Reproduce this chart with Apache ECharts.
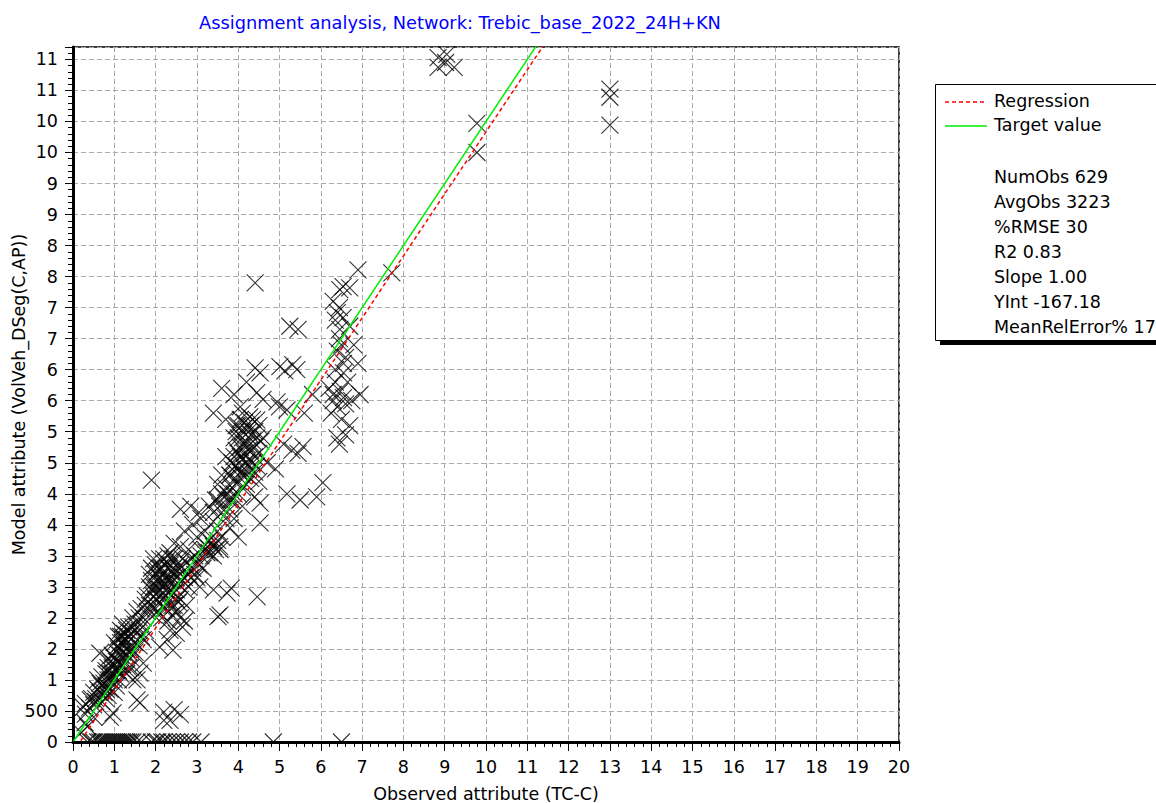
<!DOCTYPE html>
<html>
<head>
<meta charset="utf-8">
<script src="https://cdn.jsdelivr.net/npm/echarts@6/dist/echarts.min.js"></script>
<style>
html,body{margin:0;padding:0;background:#fff;}
#chart{width:1156px;height:803px;}
</style>
</head>
<body>
<div id="chart"></div>
<script>
// ---------------- data ----------------
const titleText = 'Assignment analysis, Network: Trebic_base_2022_24H+KN';
const xAxisTitle = 'Observed attribute (TC-C)';
const yAxisTitle = 'Model attribute (VolVeh_DSeg(C,AP))';
const xTickLabels = ['0','1','2','3','4','5','6','7','8','9','10','11','12','13','14','15','16','17','18','19','20'];
const yTickLabels = ['0','500','1','2','2','3','3','4','4','5','5','6','6','7','7','8','8','9','9','10','10','11','11'];
const legendNames = ['Regression','Target value'];
const statLabels = ['NumObs','AvgObs','%RMSE','R2','Slope','YInt','MeanRelError%'];
const statValues = ['629','3223','30','0.83','1.00','-167.18','17'];
const regressionSlope = 1.00;
const regressionIntercept = -167.18;
// [observed, modelled]
const scatterPoints = [
  // model = 0
  [350,0],[450,0],[500,0],[600,0],[650,0],[700,0],[750,0],[800,0],[850,0],[900,0],[950,0],[1000,0],[1050,0],[1100,0],[1150,0],[1200,0],[1250,0],[1300,0],[1350,0],[1400,0],[1450,0],[1550,0],[1650,0],[1900,0],[2000,0],[2050,0],[2150,0],[2200,0],[2300,0],[2400,0],[2500,0],[2600,0],[2700,0],[2800,0],[2900,0],[3100,0],[4850,0],[6500,0],
  // near origin
  [250,560],[300,620],[420,680],[290,310],[200,150],[350,250],[500,400],[650,1430],[600,1000],[700,900],[800,1100],[750,950],[850,1200],[900,1000],[650,800],[550,700],[700,650],[800,700],[900,400],[970,470],[1000,800],[1050,1300],[1100,1500],[1150,1600],[1200,1700],[1250,1550],[1150,1400],[1200,1250],[1300,1100],[1250,1350],[1350,1200],[1100,1150],[1000,1000],[950,1100],[800,850],[850,750],[1400,1200],[1450,1000],[1550,1000],[1620,1110],[1700,1270],[1550,680],[1620,630],[1450,1850],[1550,1760],[1700,1650],[1650,1900],[1500,1600],[1400,1500],[1300,1800],[1350,1700],[1600,2000],[1750,1800],[1800,2100],
  [300,450],[400,550],[450,700],[500,800],[550,650],[600,850],[650,950],[700,1050],[750,800],[500,600],
  [800,900],[850,1000],[900,1100],[950,1200],[1000,1250],[1050,1150],[1100,1300],[1150,1250],[1200,1450],[1250,1650],[1050,1450],[1100,1700],[1000,1600],[950,1400],[900,1300],[850,1350],[800,1150],[1150,1800],[1200,1900],[1250,1750],[1300,1500],[1350,1450],[1050,900],[1100,1000],[1150,1100],[900,850],[1000,1350],[1200,1600],[1150,1700],[1080,1550],
  [1300,1650],[1350,1850],[1400,1750],[1450,2000],[1500,1900],[1550,2100],[1600,1800],[1650,2150],[1700,2000],[1750,2200],[1400,1350],[1500,1450],[1600,1550],[1650,1700],[1300,1400],
  // 1.8k - 3.7k
  [1900,2200],[1950,2500],[2000,2700],[2000,2300],[2050,2600],[2100,2800],[2100,2450],[2150,2300],[2200,2700],[2200,2550],[2250,2900],[2300,2800],[2300,2400],[2350,2600],[2400,2750],[2400,2200],[2450,2950],[2500,2650],[2500,2450],[2550,2800],[2600,2300],[2650,2600],[2700,2450],[2750,2200],[2800,2700],[2850,2950],[1950,2050],[2050,2100],[2150,2000],[2250,2150],[2300,1950],[2400,2050],[2500,2100],[2600,2000],[2700,1950],[2100,1530],[2420,1480],[2280,1650],[2350,1800],[2500,1750],[2650,1850],[2200,350],[2350,350],[2450,520],[2600,440],[2200,480],[2600,3150],[2350,3050],[2450,3200],[2700,3400],[2900,3500],[2800,3100],[3000,3300],[3100,3100],[3240,3050],[3400,3150],[3560,3100],[3300,3250],[3070,2500],[3400,2450],[3730,2400],[4460,2340],[3560,2050],[3510,2020],[3830,2480],[3000,2900],[3150,2800],[2950,2700],
  [1800,2350],[1850,2500],[1850,2700],[1900,2800],[1900,2600],[1950,2950],[1950,2350],[2000,2500],[2000,2850],[2050,2750],[2050,2400],[2100,2650],[2100,2950],[2150,2550],[2150,2800],[2200,2400],[2200,2950],[2250,2650],[2250,2450],[2300,2600],[2300,3000],[2350,2450],[2350,2850],[2400,2600],[2400,2950],[2450,2700],[2450,2400],[2500,2850],[2500,2300],[2550,2550],[2550,2250],[1900,2450],[2000,2150],[2100,2250],[2200,2150],[2300,2250],[2450,2200],[1850,2200],[1750,2300],[2600,2700],
  [2600,2850],[2650,2950],[2700,2650],[2750,2900],[2800,2500],[2850,2650],[2900,2800],[2950,3000],[3000,2650],[3050,2850],
  [3100,3000],[3200,3100],[3250,3150],[3300,3050],[3350,3200],[3450,3100],[3500,3250],[3550,3150],[3600,3300],[3400,3000],
  // 2.9k - 4.7k diagonal
  [3100,3600],[3200,3400],[3300,3800],[3400,3550],[3500,3900],[3600,3700],[3700,4100],[3800,3900],[3800,4300],[3850,4500],[3900,4200],[3950,4700],[4000,4400],[4000,4900],[4050,4600],[4100,5000],[4100,4300],[4150,4800],[4200,4500],[4200,5100],[4250,4700],[4300,4950],[4300,4400],[4350,5200],[4400,4600],[4400,3950],[4530,3850],[4530,3530],[4450,5190],[4280,5240],[4450,5630],[4600,5520],[4410,6030],[4530,5950],[3900,5600],[3950,5100],[4050,5400],[3700,4600],[3600,4300],[3500,4150],[4600,4900],[4500,4200],[4700,4500],[3400,5300],[3600,5700],[3700,5200],[4200,5800],[1900,4220],[2600,3750],[2850,3800],[3050,3700],[3900,3600],[4100,3800],[3800,3450],[4000,3300],[4410,7400],
  [3400,3700],[3500,3400],[3550,3800],[3650,3950],[3700,3600],[3750,4000],[3800,3750],[3850,3900],[3600,4000],[3450,3900],
  [3800,4300],[3850,4400],[3900,4600],[3950,4450],[4000,4650],[4000,4200],[4050,4750],[4050,4350],[4100,4550],[4100,4900],[4150,4650],[4150,4400],[4200,4800],[4200,4300],[4250,5000],[4250,4550],[4300,4700],[4300,5100],[4350,4850],[4350,4500],[4400,5000],[4400,4750],[4450,4900],[4450,4450],[4500,5100],[4500,4650],[4550,4850],[3900,4900],[3950,5000],[4000,5100],[4050,5200],[4100,5300],[4150,5150],[3850,4100],[3900,4000],[4000,4000],[4100,4100],[4200,4150],[4300,4250],[4400,4350],
  // 4.9k - 6k
  [5010,6050],[5130,5980],[5320,6080],[5420,6000],[5250,6700],[5450,6650],[5000,5400],[4940,5480],[5180,5350],[5300,4700],[5450,4650],[5570,4760],[5180,4000],[5500,3900],[5900,3950],[6050,4180],[5800,5600],[5600,5300],[4900,4400],[5100,4800],
  // 6.2k - 7.7k
  [6540,7340],[6700,7320],[6460,7290],[6900,7610],[7720,7560],[6400,6920],[6540,6840],[6460,6650],[6200,5700],[6300,5600],[6470,5650],[6300,5500],[6550,5550],[6400,5400],[6600,5450],[6750,5500],[6950,5600],[6390,4900],[6500,5200],[6700,5100],[6400,6300],[6600,6200],[6800,6400],[6350,6000],[6550,5950],[6700,6700],[6900,6100],[6450,6500],
  [6300,7100],[6350,6800],[6450,7000],[6500,6400],[6550,6100],[6650,5800],[6350,5800],[6250,5300],[6600,4950],[6450,4800],
  // top
  [8840,11030],[9050,11080],[8840,10870],[9230,10870],[9020,10950],[9780,9970],[9780,9500],[13000,10520],[13000,10390],[13000,9940]
];

// ---------------- chart ----------------
const FONT = 'DejaVu Sans';
const FS = 17.5;
const X_MAX = 20000, Y_MAX = 11200;
const chart = echarts.init(document.getElementById('chart'), null, {renderer: 'svg'});

const regLine = [[0, regressionIntercept], [X_MAX, regressionSlope * X_MAX + regressionIntercept]];
const targetLine = [[0, 0], [X_MAX, X_MAX]];

const statTexts = statLabels.map((l, i) => ({
  type: 'text', left: 994, top: 178 + 25 * i - 10, z: 60,
  style: {text: l + ' ' + statValues[i], fill: '#000', font: FS + 'px "' + FONT + '"'}
}));

chart.setOption({
  animation: false,
  backgroundColor: '#fff',
  title: {
    text: titleText, left: 455, top: 8, textAlign: 'center',
    textStyle: {color: '#0000ff', fontSize: 17.8, fontWeight: 'normal', fontFamily: FONT}
  },
  grid: {left: 73, top: 47, width: 826, height: 695, containLabel: false, outerBoundsMode: 'none',
         show: true, borderColor: '#000', borderWidth: 1.5, backgroundColor: 'transparent'},
  xAxis: [
    {type: 'value', min: 0, max: X_MAX, interval: 1000, z: 0,
     axisLine: {show: false}, axisTick: {show: false}, axisLabel: {show: false},
     splitLine: {show: true, lineStyle: {color: '#aaaaaa', type: [5, 3], width: 1}}},
    {type: 'value', min: 0, max: X_MAX, interval: 1000, position: 'bottom', z: 80,
     name: xAxisTitle, nameLocation: 'middle', nameGap: 43, nameMoveOverlap: false,
     nameTextStyle: {color: '#000', fontSize: FS, fontFamily: FONT},
     axisLine: {show: true, onZero: false, lineStyle: {color: '#000', width: 3}},
     axisTick: {show: true, length: 9, lineStyle: {color: '#000', width: 1}},
     minorTick: {show: true, splitNumber: 5, length: 5, lineStyle: {color: '#000', width: 1}},
     axisLabel: {margin: 16, color: '#000', fontSize: FS, fontFamily: FONT,
       formatter: v => (v % 1000 === 0 ? xTickLabels[v / 1000] : '')},
     splitLine: {show: false}}
  ],
  yAxis: [
    {type: 'value', min: 0, max: Y_MAX, interval: 500,
     name: yAxisTitle, nameLocation: 'middle', nameGap: 45, nameMoveOverlap: false,
     nameTextStyle: {color: '#000', fontSize: FS, fontFamily: FONT},
     axisLine: {show: true, onZero: false, lineStyle: {color: '#000', width: 3}},
     axisTick: {show: true, length: 8, lineStyle: {color: '#000', width: 1}},
     minorTick: {show: true, splitNumber: 5, length: 5, lineStyle: {color: '#000', width: 1}},
     axisLabel: {margin: 15, color: '#000', fontSize: FS, fontFamily: FONT,
       formatter: v => (v % 500 === 0 ? yTickLabels[v / 500] : '')},
     splitLine: {show: true, lineStyle: {color: '#aaaaaa', type: [5, 3], width: 1}}}
  ],
  graphic: [
    // masks hiding symbol parts outside plot area
    {type: 'rect', left: 75, top: 38, z: 50, silent: true, shape: {width: 840, height: 8}, style: {fill: '#fff'}},
    {type: 'rect', left: 75, top: 744, z: 50, silent: true, shape: {width: 840, height: 14}, style: {fill: '#fff'}},
    // legend box
    {type: 'rect', left: 940, top: 89, z: 55, shape: {width: 240, height: 256}, style: {fill: '#000'}},
    {type: 'rect', left: 935, top: 84, z: 56, shape: {width: 240, height: 256}, style: {fill: '#fff', stroke: '#000', lineWidth: 1}},
    {type: 'line', z: 60, shape: {x1: 945, y1: 102, x2: 987, y2: 102}, style: {stroke: '#ff0000', lineWidth: 1.5, lineDash: [4, 3]}},
    {type: 'text', left: 994, top: 92, z: 60, style: {text: legendNames[0], fill: '#000', font: FS + 'px "' + FONT + '"'}},
    {type: 'line', z: 60, shape: {x1: 945, y1: 126, x2: 987, y2: 126}, style: {stroke: '#00ee00', lineWidth: 1.5}},
    {type: 'text', left: 994, top: 116, z: 60, style: {text: legendNames[1], fill: '#000', font: FS + 'px "' + FONT + '"'}}
  ].concat(statTexts),
  series: [
    {type: 'scatter', xAxisIndex: 0, yAxisIndex: 0, data: scatterPoints, z: 2,
     symbol: 'path://M0,0L10,10M10,0L0,10', symbolSize: 17,
     itemStyle: {color: 'rgba(0,0,0,0)', borderColor: '#000', borderWidth: 1.1},
     emphasis: {disabled: true}},
    {type: 'line', name: legendNames[0], xAxisIndex: 0, data: regLine, symbol: 'none', z: 3,
     lineStyle: {color: '#ff0000', width: 1.5, type: [4, 3]}},
    {type: 'line', name: legendNames[1], xAxisIndex: 0, data: targetLine, symbol: 'none', z: 4,
     lineStyle: {color: '#00ee00', width: 1.5}}
  ]
});
</script>
</body>
</html>
